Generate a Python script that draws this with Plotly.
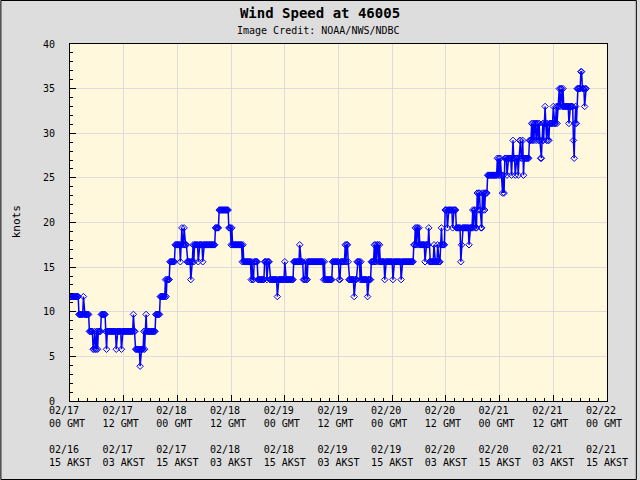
import plotly.graph_objects as go
import pandas as pd

# Wind speed samples (m/s, every 10 minutes from 02/17 00:00 GMT), one row per hour
speed_ms_rows = [
    [6, 6, 6, 6, 6, 6], [6, 6, 6, 6, 6, 6], [5, 5, 5, 5, 5, 5], [6, 5, 5, 5, 5, 5],
    [5, 5, 4, 4, 4, 4], [4, 3, 3, 4, 3, 3], [4, 3, 4, 4, 4, 4], [5, 5, 5, 5, 5, 5],
    [4, 3, 4, 4, 4, 4], [4, 4, 4, 4, 4, 4], [4, 4, 3, 4, 4, 4], [4, 4, 4, 3, 4, 4],
    [4, 4, 4, 4, 4, 4], [4, 4, 4, 4, 4, 4], [4, 5, 4, 4, 3, 3], [3, 3, 3, 3, 2, 3],
    [3, 3, 3, 4, 3, 4], [5, 4, 4, 4, 4, 4], [4, 4, 4, 4, 4, 4], [4, 5, 5, 5, 5, 5],
    [5, 6, 6, 6, 6, 6], [6, 6, 7, 6, 7, 7], [7, 7, 8, 8, 8, 8], [8, 8, 8, 9, 9, 9],
    [9, 9, 9, 9, 8, 9], [10, 9, 9, 10, 9, 9], [9, 8, 8, 8, 8, 8], [7, 8, 8, 9, 8, 9],
    [9, 9, 9, 9, 8, 9], [9, 9, 9, 9, 8, 9], [9, 9, 9, 9, 9, 9], [9, 9, 9, 9, 9, 9],
    [9, 9, 9, 10, 10, 10], [10, 10, 11, 11, 11, 11], [11, 11, 11, 11, 11, 11], [11, 11, 11, 10, 10, 10],
    [9, 10, 9, 9, 9, 9], [9, 9, 9, 9, 9, 9], [9, 9, 9, 8, 9, 8], [8, 8, 8, 8, 8, 8],
    [8, 8, 8, 7, 8, 7], [7, 8, 8, 8, 8, 8], [7, 7, 7, 7, 7, 7], [7, 7, 7, 8, 8, 8],
    [7, 8, 8, 8, 7, 7], [7, 7, 7, 7, 7, 7], [7, 7, 6, 7, 7, 7], [7, 7, 7, 7, 7, 7],
    [8, 7, 7, 7, 7, 7], [7, 7, 7, 7, 7, 7], [8, 8, 8, 8, 8, 8], [8, 8, 9, 8, 8, 8],
    [8, 7, 7, 7, 8, 7], [7, 8, 8, 8, 8, 8], [8, 8, 8, 8, 8, 8], [8, 8, 8, 8, 8, 8],
    [8, 8, 8, 8, 7, 8], [7, 7, 7, 7, 7, 7], [7, 7, 7, 7, 8, 8], [8, 8, 8, 8, 8, 8],
    [8, 7, 7, 8, 8, 8], [8, 8, 8, 9, 8, 9], [9, 8, 7, 7, 7, 7], [7, 7, 7, 6, 7, 7],
    [7, 8, 8, 8, 8, 7], [8, 7, 7, 7, 7, 7], [7, 7, 7, 6, 7, 7], [7, 7, 8, 8, 8, 8],
    [9, 8, 9, 8, 9, 9], [8, 9, 8, 8, 8, 8], [8, 8, 7, 8, 8, 8], [8, 8, 8, 8, 8, 8],
    [8, 7, 8, 8, 8, 8], [8, 8, 8, 8, 8, 8], [7, 8, 8, 8, 8, 8], [8, 8, 8, 8, 8, 8],
    [8, 8, 8, 8, 8, 9], [9, 10, 9, 10, 10, 9], [10, 9, 9, 9, 9, 9], [9, 9, 8, 9, 9, 9],
    [9, 10, 8, 8, 8, 8], [8, 8, 9, 8, 8, 8], [8, 9, 8, 8, 8, 9], [10, 9, 9, 9, 9, 11],
    [11, 11, 10, 11, 11, 11], [11, 11, 11, 10, 11, 11], [11, 11, 10, 10, 10, 10], [10, 10, 8, 9, 10, 10],
    [10, 10, 10, 10, 10, 10], [10, 9, 10, 10, 10, 10], [11, 10, 11, 11, 10, 10], [12, 11, 12, 12, 11, 10],
    [10, 12, 11, 12, 11, 12], [12, 12, 13, 13, 13, 13], [13, 13, 13, 13, 13, 13], [13, 13, 13, 14, 13, 14],
    [13, 14, 13, 13, 12, 13], [12, 14, 14, 14, 13, 14], [14, 14, 14, 14, 13, 14], [15, 14, 14, 13, 14, 14],
    [14, 13, 14, 15, 15, 14], [14, 15, 13, 14, 14, 14], [14, 14, 14, 14, 15, 15], [15, 16, 15, 16, 15, 16],
    [16, 15, 16, 16, 15, 16], [15, 14, 14, 15, 16, 15], [16, 17, 16, 15, 16, 15], [15, 16, 16, 16, 16, 16],
    [17, 16, 16, 16, 17, 16], [17, 17, 18, 17, 18, 18], [17, 18, 17, 17, 17, 17], [17, 17, 17, 16, 17, 17],
    [17, 17, 17, 15, 14, 16], [17, 16, 18, 18, 18, 18], [18, 19, 19, 18, 18, 18], [17, 18, 18],
]
MS_TO_KNOTS = 1.94384
speed_knots = [round(v * MS_TO_KNOTS, 1) for row in speed_ms_rows for v in row]
times = pd.date_range("2025-02-17 00:00", periods=len(speed_knots), freq="10min")

tick_times = pd.date_range("2025-02-17 00:00", "2025-02-22 00:00", freq="12h")
gmt_dates = ["02/17", "02/17", "02/18", "02/18", "02/19", "02/19", "02/20", "02/20", "02/21", "02/21", "02/22"]
gmt_hours = ["00", "12", "00", "12", "00", "12", "00", "12", "00", "12", "00"]
akst_dates = ["02/16", "02/17", "02/17", "02/18", "02/18", "02/19", "02/19", "02/20", "02/20", "02/21", "02/21"]
akst_hours = ["15", "03", "15", "03", "15", "03", "15", "03", "15", "03", "15"]
y_ticks = [0, 5, 10, 15, 20, 25, 30, 35, 40]

NB = "\u00a0"
def pad(s, n=7):
    return s + NB * (n - len(s))

tick_text = [
    pad(d1) + "<br>" + pad(h1 + NB + "GMT") + "<br> <br>" + pad(d2) + "<br>" + pad(h2 + NB + "AKST")
    for d1, h1, d2, h2 in zip(gmt_dates, gmt_hours, akst_dates, akst_hours)
]

MONO = "DejaVu Sans Mono"

fig = go.Figure()
fig.add_trace(go.Scatter(
    x=times, y=speed_knots, mode="lines+markers",
    line=dict(color="#0000ff", width=1.5),
    marker=dict(symbol="diamond-open", size=5, color="#0000ff", line=dict(width=1, color="#0000ff")),
    showlegend=False, hoverinfo="x+y",
))

L, R, T, B = 70, 30, 44, 79
W, H = 640, 480
pw, ph = W - L - R, H - T - B

fig.update_layout(
    width=W, height=H,
    margin=dict(l=L, r=R, t=T, b=B, pad=0),
    paper_bgcolor="#dddddd",
    plot_bgcolor="#fff8dc",
    font=dict(family=MONO, size=10, color="black"),
    title=dict(text="<b>Wind Speed at 46005</b>", x=0.5, xref="container", xanchor="center",
               y=1 - 13 / H, yref="container", yanchor="middle",
               font=dict(family=MONO, size=14, color="black")),
    annotations=[
        dict(text="Image Credit: NOAA/NWS/NDBC", xref="paper", yref="paper",
             x=(320 - L) / pw, y=1 + 13 / ph, xanchor="center", yanchor="middle",
             showarrow=False, font=dict(family=MONO, size=10, color="black")),
        dict(text="knots", xref="paper", yref="paper", x=(16 - L) / pw, y=(H - B - 222) / ph,
             xanchor="center", yanchor="middle", textangle=-90, showarrow=False,
             font=dict(family=MONO, size=11, color="black")),
    ],
    shapes=[
        dict(type="rect", xref="paper", yref="paper",
             x0=(0.5 - L) / pw, x1=(W - 0.5 - L) / pw,
             y0=(H - B - (H - 0.5)) / ph, y1=(H - B - 0.5) / ph,
             line=dict(color="black", width=1), fillcolor="rgba(0,0,0,0)", layer="above"),
    ],
)

fig.update_xaxes(
    type="date",
    range=[tick_times[0], tick_times[-1]],
    tickmode="array", tickvals=tick_times, ticktext=tick_text,
    ticks="inside", ticklen=6, tickcolor="black", tickwidth=1,
    showgrid=True, gridcolor="#dcdcdc", gridwidth=1,
    showline=True, linecolor="black", linewidth=1, mirror=True,
    zeroline=False,
    tickfont=dict(family=MONO, size=10, color="black"),
    minor=dict(tickmode="linear", tick0="2025-02-17 00:00", dtick=2 * 3600 * 1000,
               ticks="inside", ticklen=3, tickcolor="black", showgrid=False),
    fixedrange=True,
)
fig.update_yaxes(
    range=[0, 40], tickmode="array", tickvals=y_ticks,
    ticks="inside", ticklen=6, tickcolor="black", tickwidth=1,
    showgrid=True, gridcolor="#dcdcdc", gridwidth=1,
    showline=True, linecolor="black", linewidth=1, mirror=True,
    zeroline=False,
    ticklabelstandoff=12,
    tickfont=dict(family=MONO, size=10, color="black"),
    minor=dict(tickmode="linear", tick0=0, dtick=1, ticks="inside", ticklen=3,
               tickcolor="black", showgrid=False),
    fixedrange=True,
)

fig.write_html("out.html")
